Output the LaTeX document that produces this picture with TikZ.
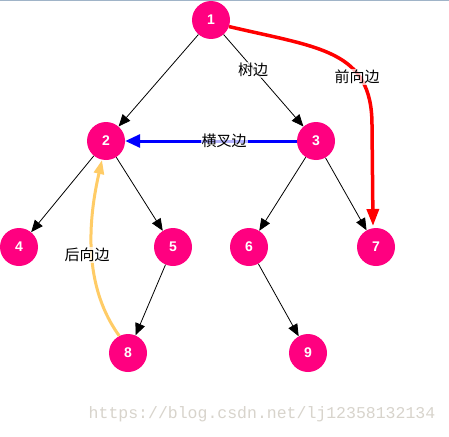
\documentclass[tikz,border=0pt]{standalone}
\usepackage{fontspec}
\setmainfont{Liberation Sans}
\newfontfamily\cjk{Noto Sans CJK SC}
\newfontfamily\wmfont{Liberation Mono}
\usetikzlibrary{arrows.meta}
\definecolor{nodepink}{RGB}{255,0,128}
\definecolor{orangeedge}{RGB}{255,204,102}
\definecolor{wmgray}{RGB}{216,212,204}
\definecolor{topline}{RGB}{160,180,200}
\begin{document}
\begin{tikzpicture}[x=1pt,y=-1pt,
  vert/.style={circle,fill=nodepink,minimum size=38pt,inner sep=0pt,text=white,font=\bfseries\fontsize{14}{14}\selectfont},
  treeedge/.style={draw=black,line width=0.8pt,-{Triangle[length=12pt,width=10pt]}},
  lbl/.style={font=\cjk\fontsize{15}{15}\selectfont,fill=white,fill opacity=0.7,text opacity=1,inner sep=1pt}]
\useasboundingbox (0,0) rectangle (449,436);
\fill[white] (0,0) rectangle (449,436);
\draw[topline,line width=1.5pt] (0,0.75) -- (449,0.75);
\node[vert] (n1) at (211,20) {1};
\node[vert] (n2) at (106,141) {2};
\node[vert] (n3) at (316,141) {3};
\node[vert] (n4) at (19,247) {4};
\node[vert] (n5) at (173,247) {5};
\node[vert] (n6) at (249,247) {6};
\node[vert] (n7) at (376,247) {7};
\node[vert] (n8) at (128,353) {8};
\node[vert] (n9) at (308,353) {9};
\draw[treeedge] (n1) -- (n2);
\draw[treeedge] (n1) -- (n3);
\draw[treeedge] (n2) -- (n4);
\draw[treeedge] (n2) -- (n5);
\draw[treeedge] (n3) -- (n6);
\draw[treeedge] (n3) -- (n7);
\draw[treeedge] (n5) -- (n8);
\draw[treeedge] (n6) -- (n9);
\coordinate (t7) at (373,226);
\coordinate (t2) at (102,160);
\draw[red,line width=3.5pt,-{Triangle[length=17pt,width=12pt]}] (n1.-20) .. controls (320,48) and (372,50) .. (372,125) -- (t7);
\draw[blue,line width=3pt,-{Triangle[length=15pt,width=13pt]}] (n3) -- (n2);
\draw[orangeedge,line width=3pt,-{Triangle[length=14pt,width=10pt]}] (n8.117) .. controls (86,290) and (86,230) .. (t2);
\node[lbl] (l1) at (253,70) {树边};
\node[lbl] (l2) at (357,77) {前向边};
\node[lbl] (l3) at (224,141) {横叉边};
\node[lbl] (l4) at (87,255) {后向边};
\node[text=wmgray,font=\wmfont\fontsize{16.5}{16.5}\selectfont,inner sep=0pt] (wm) at (262,414) {https://blog.csdn.net/lj12358132134};
\end{tikzpicture}
\end{document}
